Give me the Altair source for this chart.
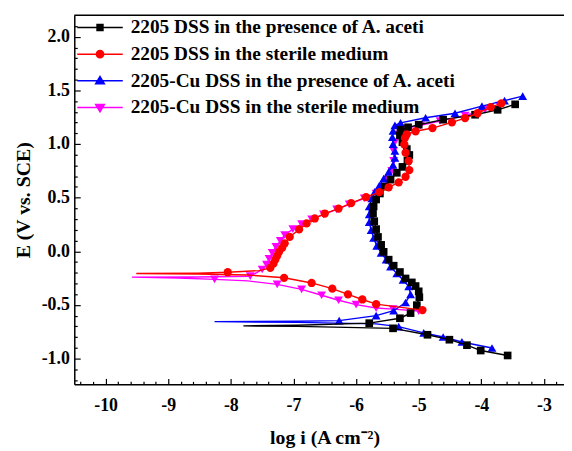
import altair as alt
import pandas as pd

LABELS = [
    "2205 DSS in the presence of A. aceti",
    "2205 DSS in the sterile medium",
    "2205-Cu DSS in the presence of A. aceti",
    "2205-Cu DSS in the sterile medium",
]
COLORS = ["#000000", "#FF0000", "#0000FF", "#FF00FF"]
SHAPES = ["square", "circle", "triangle-up", "triangle-down"]

# 2205 DSS + A. aceti (black squares): cathodic end -> Ecorr tip -> anodic end
BLACK_LOGI = [-3.58, -4.01, -4.23, -4.51, -4.86, -5.41, -6.16, -6.94, -7.80,
              -6.94, -5.79, -5.30, -5.13, -5.03, -4.99, -5.00, -5.05, -5.11, -5.21, -5.30,
              -5.40, -5.48, -5.56, -5.60, -5.65, -5.68, -5.71, -5.73, -5.72, -5.68, -5.62,
              -5.54, -5.45, -5.35, -5.26, -5.18, -5.15, -5.19, -5.26, -5.30, -5.29, -5.17,
              -5.00, -4.61, -4.10, -3.74, -3.46]
BLACK_E = [-0.971, -0.925, -0.875, -0.824, -0.778, -0.718, -0.709, -0.700, -0.695,
           -0.689, -0.670, -0.624, -0.576, -0.502, -0.428, -0.373, -0.324, -0.290, -0.253, -0.193,
           -0.134, -0.078, -0.005, 0.060, 0.134, 0.207, 0.281, 0.355, 0.419, 0.483, 0.539,
           0.603, 0.668, 0.732, 0.787, 0.843, 0.898, 0.953, 1.017, 1.082, 1.133, 1.156,
           1.180, 1.227, 1.273, 1.319, 1.370]
BLACK_MK = [1, 1, 1, 1, 1, 1, 0, 0, 0,
            0, 1, 1, 1, 1, 1, 1, 1, 1, 1, 1,
            1, 1, 1, 1, 1, 1, 1, 1, 1, 1, 1,
            1, 1, 1, 1, 1, 1, 1, 1, 1, 1, 1,
            1, 1, 1, 1, 1]

# 2205 DSS sterile (red circles)
RED_LOGI = [-4.94, -5.68, -5.90, -6.13, -6.38, -6.71, -7.15, -7.73, -8.53, -9.51,
            -8.53, -8.05, -7.55, -7.37, -7.32, -7.29, -7.26, -7.23, -7.18, -7.14, -7.06,
            -6.91, -6.79, -6.66, -6.50, -6.28, -6.08, -5.84, -5.63, -5.48, -5.32, -5.21,
            -5.15, -5.16, -5.21, -5.23, -5.22, -5.19, -5.05, -4.78, -4.47, -4.26, -4.06,
            -3.85, -3.68]
RED_E = [-0.548, -0.493, -0.449, -0.401, -0.348, -0.295, -0.247, -0.221, -0.212, -0.207,
         -0.203, -0.195, -0.180, -0.155, -0.115, -0.078, -0.041, -0.005, 0.032, 0.074, 0.134,
         0.204, 0.260, 0.306, 0.352, 0.398, 0.449, 0.505, 0.551, 0.597, 0.643, 0.695,
         0.757, 0.843, 0.919, 0.996, 1.057, 1.091, 1.119, 1.149, 1.202, 1.241, 1.287,
         1.344, 1.379]
RED_MK = [1, 1, 1, 1, 1, 1, 1, 0, 0, 0,
          0, 1, 0, 1, 1, 1, 1, 1, 1, 1, 1,
          1, 1, 1, 1, 1, 1, 1, 1, 1, 1, 1,
          1, 1, 1, 1, 1, 1, 1, 1, 1, 1, 1,
          1, 1]

# 2205-Cu DSS + A. aceti (blue up-triangles)
BLUE_LOGI = [-3.83, -4.31, -4.61, -4.92, -5.32, -5.68, -6.94, -8.26,
             -6.94, -6.27, -5.68, -5.40, -5.21, -5.13, -5.16, -5.25, -5.35, -5.45, -5.52,
             -5.60, -5.67, -5.72, -5.76, -5.79, -5.79, -5.79, -5.75, -5.70, -5.63, -5.56,
             -5.48, -5.41, -5.38, -5.38, -5.41, -5.42, -5.41, -5.38, -5.29, -4.89, -4.42,
             -3.99, -3.63, -3.34]
BLUE_E = [-0.901, -0.845, -0.799, -0.760, -0.702, -0.677, -0.663, -0.656,
          -0.652, -0.646, -0.600, -0.554, -0.477, -0.401, -0.327, -0.267, -0.207, -0.143, -0.078,
          -0.014, 0.051, 0.124, 0.198, 0.272, 0.345, 0.419, 0.493, 0.557, 0.612, 0.677,
          0.741, 0.806, 0.870, 0.935, 0.999, 1.064, 1.123, 1.174, 1.197, 1.245, 1.287,
          1.354, 1.404, 1.446]
BLUE_MK = [1, 1, 1, 1, 1, 0, 0, 0,
           0, 1, 1, 1, 1, 1, 1, 1, 1, 1, 1,
           1, 1, 1, 1, 1, 1, 1, 1, 1, 1, 1,
           1, 1, 1, 1, 1, 1, 1, 1, 1, 1, 1,
           1, 1, 1]

# 2205-Cu DSS sterile (magenta down-triangles)
MAG_LOGI = [-5.00, -5.41, -5.68, -6.00, -6.28, -6.55, -6.87, -7.26, -7.73, -8.26, -8.84, -9.58,
            -8.53, -7.69, -7.50, -7.43, -7.39, -7.34, -7.28, -7.21, -7.14, -7.01, -6.87,
            -6.71, -6.52, -6.31, -6.11, -5.87, -5.68, -5.56, -5.49, -5.43, -5.40, -5.40,
            -5.38, -5.32, -5.21, -4.97, -4.66, -4.26, -3.94, -3.71]
MAG_E = [-0.557, -0.539, -0.529, -0.497, -0.456, -0.410, -0.355, -0.308, -0.276, -0.262, -0.249, -0.241,
         -0.239, -0.232, -0.170, -0.124, -0.069, -0.014, 0.041, 0.097, 0.152, 0.207, 0.253,
         0.299, 0.345, 0.391, 0.437, 0.493, 0.539, 0.603, 0.668, 0.750, 0.843, 0.935,
         1.017, 1.091, 1.146, 1.174, 1.215, 1.266, 1.321, 1.358]
MAG_MK = [1, 1, 1, 1, 1, 1, 1, 1, 0, 1, 0, 0,
          0, 1, 1, 1, 1, 1, 1, 1, 1, 1, 1,
          1, 1, 1, 1, 1, 1, 1, 1, 1, 1, 1,
          1, 1, 1, 1, 1, 1, 1, 1]

X_TICKS = [round(-10.4 + 0.2 * k, 1) for k in range(39)]
Y_TICKS = [round(-1.2 + 0.1 * k, 1) for k in range(34)]

FONT = "Liberation Serif"
W, H = 495, 373

series = [
    (LABELS[0], BLACK_LOGI, BLACK_E, BLACK_MK),
    (LABELS[1], RED_LOGI, RED_E, RED_MK),
    (LABELS[2], BLUE_LOGI, BLUE_E, BLUE_MK),
    (LABELS[3], MAG_LOGI, MAG_E, MAG_MK),
]
rows = []
for name, xs, ys, mk in series:
    for i, (xv, yv, m) in enumerate(zip(xs, ys, mk)):
        rows.append({"series": name, "i": i, "logi": xv, "E": yv, "mk": m})
df = pd.DataFrame(rows)

is_major_x = "abs(datum.value - round(datum.value)) < 0.001"
is_major_y = "abs(datum.value * 2 - round(datum.value * 2)) < 0.001"

x_enc = alt.X(
    "logi:Q",
    scale=alt.Scale(domain=[-10.5, -2.68], nice=False, zero=False),
    axis=alt.Axis(
        title="log i (A cm\u207b\u00b2)",
        values=X_TICKS,
        labelExpr=f"{is_major_x} ? '' + datum.value : ''",
        tickSize={"condition": {"test": is_major_x, "value": -6}, "value": -3},
        labelPadding=18,
        titlePadding=14,
        titleX=253,
    ),
)
y_enc = alt.Y(
    "E:Q",
    scale=alt.Scale(domain=[-1.24, 2.2], nice=False, zero=False),
    axis=alt.Axis(
        title="E (V vs. SCE)",
        values=Y_TICKS,
        labelExpr=f"{is_major_y} ? replace(format(datum.value, '.1f'), '\u2212', '-') : ''",
        tickSize={"condition": {"test": is_major_y, "value": -6}, "value": -3},
        labelPadding=11,
        titlePadding=8,
    ),
)

draw_order = [3, 2, 0, 1]  # magenta, blue, black, red (red on top)
sizes = {"square": 60, "circle": 70, "triangle-up": 80, "triangle-down": 80}
layers = []
for k in draw_order:
    name = LABELS[k]
    base = alt.Chart(df).transform_filter(alt.datum.series == name)
    layers.append(
        base.mark_line(color=COLORS[k], strokeWidth=1.4).encode(
            x=x_enc, y=y_enc, order=alt.Order("i:Q")
        )
    )
    layers.append(
        base.transform_filter(alt.datum.mk == 1)
        .mark_point(filled=True, opacity=1, shape=SHAPES[k], size=sizes[SHAPES[k]], color=COLORS[k])
        .encode(x=x_enc, y=y_enc)
    )

LEG_PATHS = [
    "M-1,0H1M-0.13,-0.13H0.13V0.13H-0.13Z",
    "M-1,0H1M0.16,0A0.16,0.16,0,1,1,-0.16,0A0.16,0.16,0,1,1,0.16,0Z",
    "M-1,0H1M0,-0.19L0.19,0.13L-0.19,0.13Z",
    "M-1,0H1M0,0.19L0.19,-0.13L-0.19,-0.13Z",
]
leg = alt.Legend(
    title=None, orient="none", legendX=2, legendY=-1, direction="vertical",
    clipHeight=26.5, rowPadding=0, padding=0, labelOffset=7,
    labelFont=FONT, labelFontSize=19.5, labelFontWeight="bold", labelColor="black",
    labelLimit=500, symbolSize=2116, symbolStrokeWidth=1.5,
)
legend_layer = (
    alt.Chart(df)
    .transform_filter("false")
    .mark_point(filled=True, opacity=1)
    .encode(
        fill=alt.Fill("series:N", scale=alt.Scale(domain=LABELS, range=COLORS), legend=leg),
        stroke=alt.Stroke("series:N", scale=alt.Scale(domain=LABELS, range=COLORS), legend=leg),
        shape=alt.Shape("series:N", scale=alt.Scale(domain=LABELS, range=LEG_PATHS), legend=leg),
    )
)

top_rule = alt.Chart(alt.Data(values=[{"a": 1}])).mark_rule(color="black", strokeWidth=1.5).encode(
    x=alt.value(0), x2=alt.value(W), y=alt.value(0)
)

chart = (
    alt.layer(*layers, legend_layer, top_rule)
    .properties(
        width=W, height=H,
        autosize=alt.AutoSizeParams(type="none"),
        padding={"left": 67, "top": 5, "right": 0, "bottom": 64},
    )
    .configure_view(stroke=None)
    .configure_axis(
        grid=False, domainColor="black", domainWidth=1.5, tickColor="black", tickWidth=1.2,
        labelColor="black", labelFont=FONT, labelFontWeight="bold", labelFontSize=18,
        titleColor="black", titleFont=FONT, titleFontWeight="bold", titleFontSize=20,
    )
)

chart.save("out.html", embed_options={"renderer": "svg", "actions": False})
